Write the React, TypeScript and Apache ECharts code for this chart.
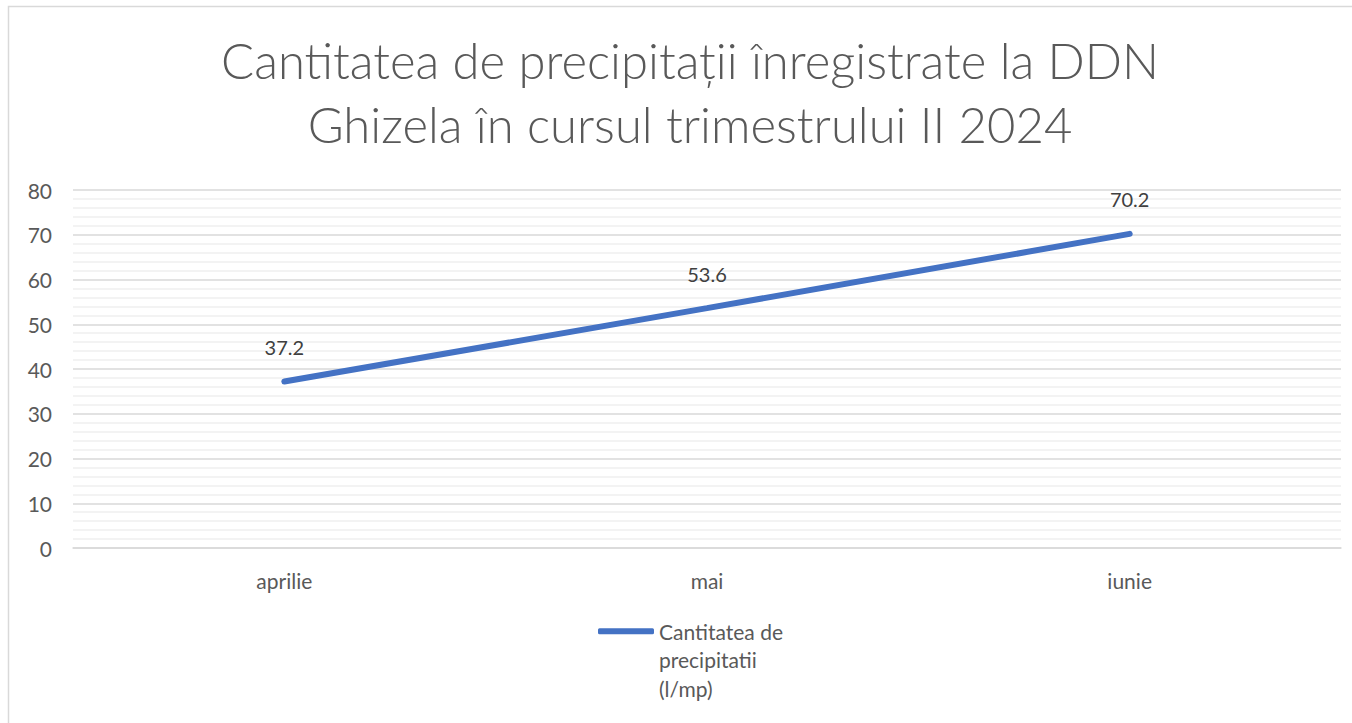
import React, { useEffect, useRef } from "react";
import * as echarts from "echarts";

const categories = ["aprilie", "mai", "iunie"];
const values = [37.2, 53.6, 70.2];
const seriesName = "Cantitatea de\nprecipitatii\n(l/mp)";
const titleText = "Cantitatea de precipitații înregistrate la DDN\nGhizela în cursul trimestrului II 2024";

const FONT = "Lato, 'Open Sans', sans-serif";

export default function App() {
  const ref = useRef<HTMLDivElement>(null);
  useEffect(() => {
    if (!ref.current) return;
    const chart = echarts.init(ref.current, undefined, { renderer: "svg" });
    chart.setOption({
      animation: false,
      backgroundColor: "#ffffff",
      textStyle: { fontFamily: FONT },
      title: {
        text: titleText,
        left: 690,
        textAlign: "center",
        top: 28,
        padding: 0,
        textStyle: {
          fontFamily: FONT,
          fontSize: 49,
          fontWeight: 300,
          color: "#595959",
          lineHeight: 64,
        },
      },
      graphic: [
        {
          type: "rect",
          shape: { x: 8.5, y: 6.5, width: 1400, height: 800 },
          style: { fill: "none", stroke: "#d9d9d9", lineWidth: 1.5 },
          silent: true,
          z: -1,
        },
      ],
      legend: {
        left: 598,
        top: 560,
        padding: 0,
        itemWidth: 56,
        itemHeight: 6,
        itemGap: 4,
        icon: "roundRect",
        data: [seriesName],
        formatter: (name: string) => "\n\n" + name,
        textStyle: {
          fontFamily: FONT,
          fontSize: 21,
          color: "#595959",
          lineHeight: 28.5,
        },
      },
      grid: { left: 73, right: 11, top: 190, bottom: 175, containLabel: false },
      xAxis: {
        type: "category",
        data: categories,
        boundaryGap: true,
        axisLine: { show: true, lineStyle: { color: "#d9d9d9", width: 1.5 } },
        axisTick: { show: false },
        axisLabel: { color: "#595959", fontSize: 21, margin: 22, fontFamily: FONT },
        splitLine: { show: false },
      },
      yAxis: {
        type: "value",
        min: 0,
        max: 80,
        interval: 10,
        axisLine: { show: false },
        axisTick: { show: false },
        axisLabel: { color: "#595959", fontSize: 21, margin: 21, fontFamily: FONT },
        splitLine: { show: true, lineStyle: { color: "#d9d9d9", width: 1.5 } },
        minorTick: { show: false, splitNumber: 5 },
        minorSplitLine: { show: true, lineStyle: { color: "#efefef", width: 1.5 } },
      },
      series: [
        {
          name: seriesName,
          type: "line",
          data: values,
          showSymbol: true,
          symbol: "circle",
          symbolSize: 1,
          itemStyle: { color: "#4472C4" },
          lineStyle: { color: "#4472C4", width: 6, cap: "round" },
          label: {
            show: true,
            position: "top",
            distance: 24,
            color: "#404040",
            fontSize: 20,
            fontFamily: FONT,
          },
        },
      ],
    });
    return () => chart.dispose();
  }, []);
  return (
    <div
      ref={ref}
      style={{ position: "absolute", left: 0, top: 0, width: 1352, height: 723 }}
    />
  );
}
